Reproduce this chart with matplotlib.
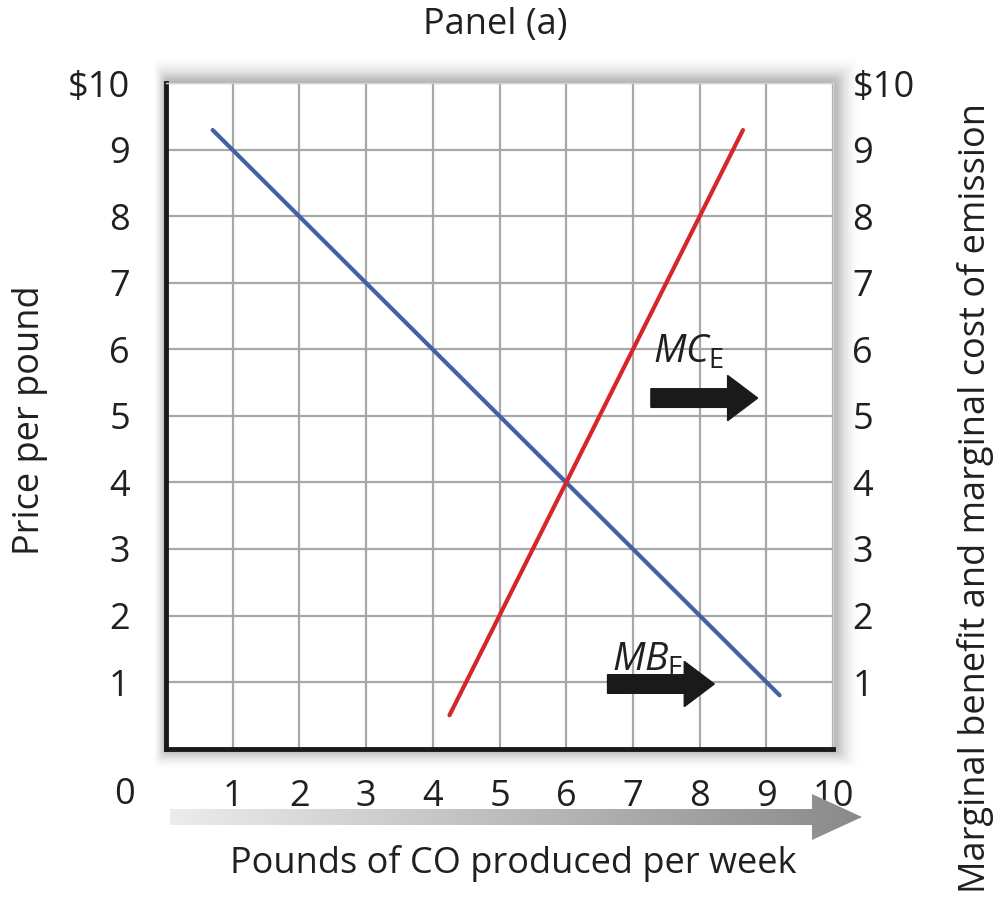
import matplotlib
matplotlib.use("Agg")
import matplotlib.pyplot as plt
import numpy as np
from matplotlib.patches import Polygon, FancyBboxPatch

plt.rcParams["font.family"] = ["Open Sans", "DejaVu Sans"]
plt.rcParams["mathtext.fontset"] = "custom"
plt.rcParams["mathtext.it"] = "Open Sans:italic"
plt.rcParams["mathtext.rm"] = "Open Sans"

# data
mb_x = [0.7, 9.2]
mb_y = [9.3, 0.8]
mc_x = [4.25, 8.65]
mc_y = [0.5, 9.3]
ticks = list(range(1, 11))
y_labels = ["1", "2", "3", "4", "5", "6", "7", "8", "9", "$10"]
x_labels = ["1", "2", "3", "4", "5", "6", "7", "8", "9", "10"]

BLUE = "#4262a6"
RED = "#d7262b"
GRID = "#a8a8a8"
TXT = "#231f20"
FS = 26

W, H = 1000, 919
fig = plt.figure(figsize=(W / 100, H / 100), dpi=100)

# axes box in pixels
x0, x1 = 166, 833
y_top, y_bot = 83.5, 748.5
rect = [x0 / W, (H - y_bot) / H, (x1 - x0) / W, (y_bot - y_top) / H]

# soft shadow behind the plot box
bg = fig.add_axes([0, 0, 1, 1], zorder=0)
bg.set_xlim(0, W)
bg.set_ylim(H, 0)
bg.axis("off")
for i, a in enumerate(np.linspace(0.05, 0.004, 12)):
    pad = (i + 1) * 2.2
    bg.add_patch(FancyBboxPatch((x0 - pad * 0.5, y_top - pad), x1 - x0 + pad * 1.5,
                                y_bot - y_top + pad * 1.8, boxstyle="round,pad=0,rounding_size=6",
                                facecolor="black", alpha=a, edgecolor="none"))

ax = fig.add_axes(rect, zorder=2)
ax.set_xlim(0, 10)
ax.set_ylim(0, 10)
ax.set_facecolor("white")
ax.set_xticks(ticks)
ax.set_yticks(ticks)
ax.grid(True, color=GRID, lw=1.6)
ax.set_axisbelow(True)
ax.tick_params(length=0, labelsize=FS, labelcolor=TXT)
ax.set_xticklabels(x_labels)
ax.set_yticklabels(y_labels)
ax.tick_params(axis="x", pad=22)
ax.tick_params(axis="y", pad=26)
for s in ["left", "bottom"]:
    ax.spines[s].set_linewidth(3.5)
    ax.spines[s].set_color("#1a1a1a")
for s in ["top", "right"]:
    ax.spines[s].set_linewidth(1.0)
    ax.spines[s].set_color("#d5d5d5")

ax.text(-0.62, -0.7, "0", fontsize=FS, ha="center", va="center", color=TXT)

ax2 = ax.twinx()
ax2.set_zorder(3)
ax2.set_ylim(0, 10)
ax2.set_yticks(ticks)
ax2.set_yticklabels(y_labels)
ax2.tick_params(length=0, labelsize=FS, pad=14, labelcolor=TXT)
for s in ax2.spines.values():
    s.set_visible(False)

ax.plot(mb_x, mb_y, color=BLUE, lw=3, solid_capstyle="round", zorder=4)
ax.plot(mc_x, mc_y, color=RED, lw=3, solid_capstyle="round", zorder=4)

# shift arrows
ax.arrow(7.27, 5.27, 1.15, 0, width=0.28, head_width=0.68, head_length=0.45,
         color="#1a1a1a", length_includes_head=False, zorder=5)
ax.arrow(6.62, 0.97, 1.15, 0, width=0.28, head_width=0.68, head_length=0.45,
         color="#1a1a1a", length_includes_head=False, zorder=5)
ax.text(7.3, 5.95, r"$MC_{\mathrm{E}}$", fontsize=FS + 2, ha="left", va="center",
        color=TXT, zorder=6)
ax.text(6.68, 1.33, r"$MB_{\mathrm{E}}$", fontsize=FS + 2, ha="left", va="center",
        color=TXT, zorder=6)

fig.text(495 / W, 1 - 25 / H, "Panel (a)", fontsize=FS, ha="center", va="center", color=TXT)
fig.text(30 / W, 1 - 420 / H, "Price per pound", fontsize=FS, rotation=90,
         ha="center", va="center", color=TXT)
fig.text(975 / W, 1 - 498 / H, "Marginal benefit and marginal cost of emission", fontsize=FS,
         rotation=90, ha="center", va="center", color=TXT)
fig.text(513 / W, 1 - 864 / H, "Pounds of CO produced per week", fontsize=FS,
         ha="center", va="center", color=TXT)

# gradient arrow under the x axis
ax3 = fig.add_axes([170 / W, (H - 840) / H, 692 / W, 46 / H], zorder=2)
ax3.set_xlim(0, 692)
ax3.set_ylim(0, 46)
ax3.axis("off")
grad = np.linspace(0, 1, 256).reshape(1, -1)
cmap = matplotlib.colors.LinearSegmentedColormap.from_list("g", ["#ececec", "#8a8a8a"])
im = ax3.imshow(grad, extent=[0, 692, 0, 46], aspect="auto", cmap=cmap)
arrow_poly = Polygon([[0, 15], [642, 15], [642, 0], [692, 23], [642, 46], [642, 31], [0, 31]],
                     closed=True, transform=ax3.transData, facecolor="none", edgecolor="none")
ax3.add_patch(arrow_poly)
im.set_clip_path(arrow_poly)

fig.savefig("out.png", dpi=100)
